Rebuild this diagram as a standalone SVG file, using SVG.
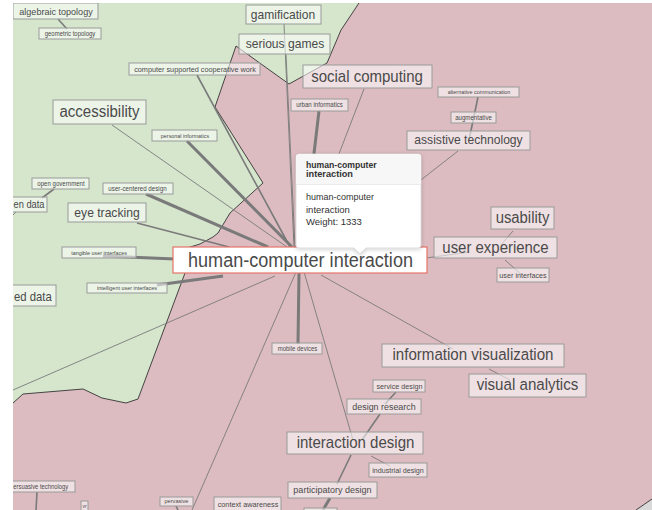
<svg xmlns="http://www.w3.org/2000/svg" width="652" height="510" viewBox="0 0 652 510">
<defs>
<clipPath id="map"><rect x="13" y="3" width="639" height="507"/></clipPath>
<filter id="shadow" x="-20%" y="-20%" width="140%" height="140%"><feDropShadow dx="0" dy="1" stdDeviation="2" flood-color="#000" flood-opacity="0.2"/></filter>
<style>
.lbl rect{fill:#fff;fill-opacity:0.55;stroke:#9a9a9a;stroke-width:1}
.lbl text{font-family:"Liberation Sans",Arial,sans-serif;fill:#4a4a4a;text-anchor:middle}
.lbl text.st{text-anchor:start}
#edges line{stroke:#7a7a7a;stroke-linecap:butt}
.t1{stroke-width:0.9}
.t2{stroke-width:1.6}
.t3{stroke-width:3}
.tip{font-family:"Liberation Sans",Arial,sans-serif;fill:#333}
</style>
</defs>
<rect width="652" height="510" fill="#fff"/>
<g clip-path="url(#map)">
<g id="regions">
<rect x="13" y="3" width="639" height="507" fill="#dcbcc0"/>
<polygon points="13,3 359,3 341,30 327,63 289,84 236,46 215,107 263,183 230,213 218,233 213,237 200,244 187,248 185,273 138,399 126,403 102,398 83,389 23,394 13,403" fill="#d5e6cd"/>
<polygon points="636,510 652,499 652,510" fill="#d9d9d9"/>
<polyline points="359,3 341,30 327,63 289,84 236,46 215,107 263,183 230,213 218,233 213,237 200,244 187,248 185,273 138,399 126,403 102,398 83,389 23,394 13,403" fill="none" stroke="#333" stroke-width="0.9"/>
<polyline points="636,510 652,499" fill="none" stroke="#333" stroke-width="0.9"/>
</g>
<g id="edges">
<line class="t2" x1="58" y1="19" x2="67" y2="29"/>
<line class="t1" x1="284" y1="24" x2="294" y2="247"/>
<line class="t1" x1="286" y1="54" x2="295" y2="247"/>
<line class="t2" x1="197" y1="75" x2="290" y2="247"/>
<line class="t1" x1="112" y1="125" x2="287" y2="247"/>
<line class="t3" x1="187" y1="141" x2="292" y2="247"/>
<line class="t3" x1="146" y1="194" x2="268" y2="247"/>
<line class="t2" x1="137" y1="223" x2="229" y2="247"/>
<line class="t3" x1="103" y1="256" x2="175" y2="259"/>
<line class="t3" x1="157" y1="285" x2="223" y2="276"/>
<line class="t3" x1="319" y1="111" x2="303" y2="247"/>
<line class="t1" x1="364" y1="89" x2="303" y2="247"/>
<line class="t2" x1="478" y1="97" x2="469" y2="140"/>
<line class="t1" x1="458" y1="151" x2="335" y2="247"/>
<line class="t1" x1="513" y1="231" x2="500" y2="246"/>
<line class="t1" x1="470" y1="252" x2="426" y2="258"/>
<line class="t1" x1="505" y1="260" x2="522" y2="275"/>
<line class="t3" x1="299" y1="272" x2="298" y2="344"/>
<line class="t1" x1="304" y1="272" x2="353" y2="440"/>
<line class="t1" x1="321" y1="275" x2="453" y2="349"/>
<line class="t1" x1="275" y1="276" x2="13" y2="390"/>
<line class="t1" x1="296" y1="272" x2="192" y2="510"/>
<line class="t1" x1="489" y1="369" x2="510" y2="380"/>
<line class="t2" x1="396" y1="392" x2="385" y2="404"/>
<line class="t2" x1="380" y1="414" x2="362" y2="440"/>
<line class="t1" x1="371" y1="456" x2="390" y2="466"/>
<line class="t2" x1="351" y1="455" x2="337" y2="484"/>
<line class="t3" x1="330" y1="498" x2="323" y2="510"/>
<line class="t2" x1="37" y1="492" x2="36" y2="510"/>
<line class="t2" x1="176" y1="506" x2="178" y2="510"/>
<line class="t2" x1="54" y1="189" x2="42" y2="198"/>
<line class="t1" x1="16" y1="212" x2="13" y2="215"/>
</g>
<g id="n-algebraic-topology" class="lbl"><rect x="13" y="3" width="85" height="16"/><text x="56" y="14.5" font-size="9.8" textLength="73.4" lengthAdjust="spacingAndGlyphs">algebraic topology</text></g>
<g id="n-geometric-topology" class="lbl"><rect x="39" y="28" width="62" height="11"/><text x="70" y="35.8" font-size="6.5" textLength="50.7" lengthAdjust="spacingAndGlyphs">geometric topology</text></g>
<g id="n-cscw" class="lbl"><rect x="129" y="63" width="131" height="12"/><text x="195" y="71.7" font-size="7.9" textLength="121.7" lengthAdjust="spacingAndGlyphs">computer supported cooperative work</text></g>
<g id="n-accessibility" class="lbl"><rect x="53" y="100" width="93" height="24"/><text x="99.5" y="117" font-size="16" textLength="80" lengthAdjust="spacingAndGlyphs">accessibility</text></g>
<g id="n-personal-informatics" class="lbl"><rect x="152" y="130" width="65" height="11"/><text x="185" y="137.5" font-size="5.9" textLength="48.3" lengthAdjust="spacingAndGlyphs">personal informatics</text></g>
<g id="n-gamification" class="lbl"><rect x="246" y="5" width="75" height="19"/><text x="283" y="18.5" font-size="13" textLength="64.3" lengthAdjust="spacingAndGlyphs">gamification</text></g>
<g id="n-serious-games" class="lbl"><rect x="239" y="34" width="91" height="20"/><text x="285" y="48" font-size="13" textLength="78.7" lengthAdjust="spacingAndGlyphs">serious games</text></g>
<g id="n-social-computing" class="lbl"><rect x="303" y="65" width="129" height="23"/><text x="367" y="82" font-size="16.2" textLength="111.7" lengthAdjust="spacingAndGlyphs">social computing</text></g>
<g id="n-urban-informatics" class="lbl"><rect x="291" y="99" width="57" height="12"/><text x="319.5" y="107.2" font-size="6.6" textLength="46.7" lengthAdjust="spacingAndGlyphs">urban informatics</text></g>
<g id="n-alternative-communication" class="lbl"><rect x="438" y="87" width="81" height="10"/><text x="479" y="94" font-size="5.9" textLength="62.7" lengthAdjust="spacingAndGlyphs">alternative communication</text></g>
<g id="n-augmentative" class="lbl"><rect x="451" y="112" width="45" height="11"/><text x="473.5" y="119.7" font-size="6.6" textLength="36.7" lengthAdjust="spacingAndGlyphs">augmentative</text></g>
<g id="n-assistive-technology" class="lbl"><rect x="407" y="131" width="123" height="19"/><text x="468.5" y="144" font-size="13" textLength="108.3" lengthAdjust="spacingAndGlyphs">assistive technology</text></g>
<g id="n-open-government" class="lbl"><rect x="32" y="178" width="57" height="11"/><text x="61" y="185.8" font-size="6.6" textLength="47.3" lengthAdjust="spacingAndGlyphs">open government</text></g>
<g id="n-open-data" class="lbl"><rect x="-20" y="197" width="67" height="15"/><text class="st" x="13.5" y="207.5" font-size="10.3" textLength="31" lengthAdjust="spacingAndGlyphs">en data</text></g>
<g id="n-user-centered-design" class="lbl"><rect x="103" y="183" width="70" height="11"/><text x="137.5" y="191" font-size="6.7" textLength="58.3" lengthAdjust="spacingAndGlyphs">user-centered design</text></g>
<g id="n-eye-tracking" class="lbl"><rect x="68" y="203" width="78" height="19"/><text x="107" y="217" font-size="13" textLength="65.3" lengthAdjust="spacingAndGlyphs">eye tracking</text></g>
<g id="n-tangible-user-interfaces" class="lbl"><rect x="62" y="247" width="74" height="11"/><text x="99" y="254.6" font-size="5.9" textLength="55.7" lengthAdjust="spacingAndGlyphs">tangible user interfaces</text></g>
<g id="n-intelligent-user-interfaces" class="lbl"><rect x="87" y="283" width="80" height="10"/><text x="127" y="290" font-size="5.9" textLength="60" lengthAdjust="spacingAndGlyphs">intelligent user interfaces</text></g>
<g id="n-linked-data" class="lbl"><rect x="-20" y="285" width="76" height="21"/><text class="st" x="14" y="300.5" font-size="12.2" textLength="37.7" lengthAdjust="spacingAndGlyphs">ed data</text></g>
<g id="n-usability" class="lbl"><rect x="491" y="207" width="63" height="22"/><text x="522.5" y="223" font-size="16" textLength="53.7" lengthAdjust="spacingAndGlyphs">usability</text></g>
<g id="n-user-experience" class="lbl"><rect x="434" y="237" width="123" height="21"/><text x="495.5" y="252.5" font-size="16" textLength="106.3" lengthAdjust="spacingAndGlyphs">user experience</text></g>
<g id="n-user-interfaces" class="lbl"><rect x="497" y="268" width="52" height="14"/><text x="523" y="277.8" font-size="7.8" textLength="47.3" lengthAdjust="spacingAndGlyphs">user interfaces</text></g>
<g id="n-mobile-devices" class="lbl"><rect x="272" y="343" width="50" height="11"/><text x="297.5" y="350.8" font-size="6.5" textLength="39.7" lengthAdjust="spacingAndGlyphs">mobile devices</text></g>
<g id="n-information-visualization" class="lbl"><rect x="382" y="344" width="182" height="23"/><text x="473" y="360" font-size="16.3" textLength="161" lengthAdjust="spacingAndGlyphs">information visualization</text></g>
<g id="n-visual-analytics" class="lbl"><rect x="469" y="374" width="117" height="23"/><text x="527.5" y="390" font-size="16.3" textLength="101.7" lengthAdjust="spacingAndGlyphs">visual analytics</text></g>
<g id="n-service-design" class="lbl"><rect x="373" y="380" width="52" height="12"/><text x="399.5" y="388.5" font-size="7.8" textLength="46" lengthAdjust="spacingAndGlyphs">service design</text></g>
<g id="n-design-research" class="lbl"><rect x="347" y="399" width="74" height="15"/><text x="384" y="409.7" font-size="9.6" textLength="63.3" lengthAdjust="spacingAndGlyphs">design research</text></g>
<g id="n-interaction-design" class="lbl"><rect x="287" y="432" width="136" height="22"/><text x="355.5" y="447.5" font-size="16.2" textLength="117.7" lengthAdjust="spacingAndGlyphs">interaction design</text></g>
<g id="n-industrial-design" class="lbl"><rect x="369" y="463" width="58" height="14"/><text x="398" y="472.5" font-size="7.8" textLength="51.7" lengthAdjust="spacingAndGlyphs">industrial design</text></g>
<g id="n-participatory-design" class="lbl"><rect x="288" y="482" width="89" height="16"/><text x="332.5" y="493.2" font-size="9.7" textLength="78.3" lengthAdjust="spacingAndGlyphs">participatory design</text></g>
<g id="n-bottom" class="lbl"><rect x="304" y="508" width="33" height="12"/></g>
<g id="n-persuasive-technology" class="lbl"><rect x="-20" y="481" width="95" height="11"/><text class="st" x="13.3" y="488.6" font-size="6.4" textLength="55" lengthAdjust="spacingAndGlyphs">ersuasive technology</text></g>
<g id="n-vr" class="lbl"><rect x="81" y="501" width="7" height="14"/><text x="84.5" y="507.8" font-size="5" textLength="4" lengthAdjust="spacingAndGlyphs">vr</text></g>
<g id="n-pervasive" class="lbl"><rect x="160" y="497" width="33" height="9"/><text x="176.5" y="503.2" font-size="6" textLength="24" lengthAdjust="spacingAndGlyphs">pervasive</text></g>
<g id="n-context-awareness" class="lbl"><rect x="214" y="497" width="67" height="18"/><text x="248" y="506.5" font-size="7.9" textLength="60.7" lengthAdjust="spacingAndGlyphs">context awareness</text></g>
<g id="n-hci"><rect x="173" y="247" width="254" height="26" fill="#fff" stroke="#e57368" stroke-width="1.2"/><text x="300.5" y="266.5" font-size="19.6" font-family="Liberation Sans, Arial, sans-serif" fill="#4a4a4a" text-anchor="middle" textLength="225" lengthAdjust="spacingAndGlyphs">human-computer interaction</text></g>
<g id="tooltip">
<path d="M299,154 H418 Q421,154 421,157 V245 Q421,248 418,248 H366 L360,254 L354,248 H299 Q296,248 296,245 V157 Q296,154 299,154 Z" fill="#fff" stroke="#d6d6d6" stroke-width="0.8" filter="url(#shadow)"/>
<path d="M299,154 H418 Q421,154 421,157 V184 H296 V157 Q296,154 299,154 Z" fill="#f7f7f7"/>
<line x1="296" y1="184.5" x2="421" y2="184.5" stroke="#ebebeb" stroke-width="1"/>
<text class="tip" x="306" y="167.8" font-size="9.2" font-weight="bold" textLength="70.7" lengthAdjust="spacingAndGlyphs">human-computer</text>
<text class="tip" x="306" y="177.4" font-size="9.2" font-weight="bold">interaction</text>
<text class="tip" x="306" y="199.5" font-size="9.5" textLength="68" lengthAdjust="spacingAndGlyphs">human-computer</text>
<text class="tip" x="306" y="212.5" font-size="9.5">interaction</text>
<text class="tip" x="306" y="224.5" font-size="9.5">Weight: 1333</text>
</g>
</g>
</svg>
